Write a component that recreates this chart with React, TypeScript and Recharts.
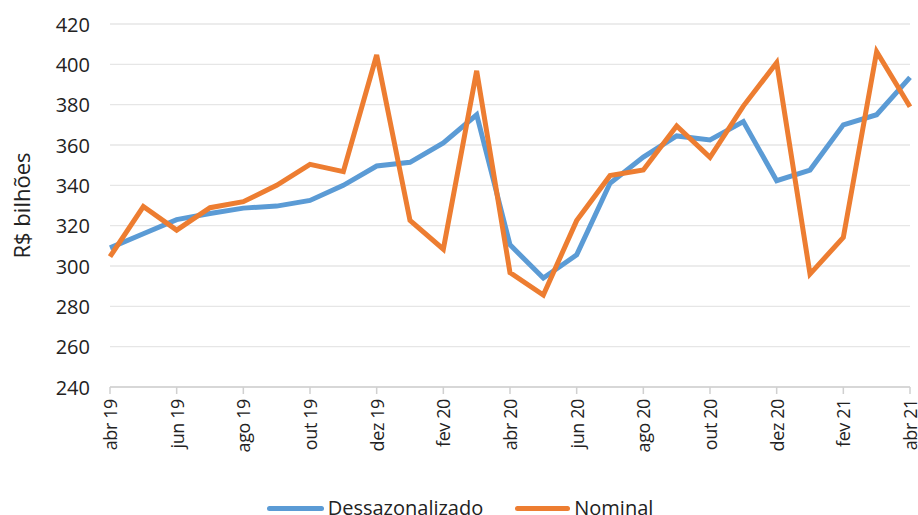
import React from 'react';
import { LineChart, Line, XAxis, YAxis, CartesianGrid, Legend } from 'recharts';

const months = ['abr 19','mai 19','jun 19','jul 19','ago 19','set 19','out 19','nov 19','dez 19','jan 20','fev 20','mar 20','abr 20','mai 20','jun 20','jul 20','ago 20','set 20','out 20','nov 20','dez 20','jan 21','fev 21','mar 21','abr 21'];
const dessazonalizado = [309, 316, 323, 326, 328.7, 329.7, 332.5, 340, 349.6, 351.4, 361, 375, 310.5, 294, 305.5, 341, 354, 364.5, 362.5, 371.6, 342.3, 347.6, 370, 375, 393.5];
const nominal = [304.6, 329.5, 317.8, 328.9, 331.9, 340, 350.4, 346.8, 404.6, 322.6, 308.3, 396.8, 296.7, 285.6, 322.5, 344.8, 347.6, 369.4, 353.9, 379.3, 400.8, 296, 314.2, 406.3, 379];
const yTicks = [240, 260, 280, 300, 320, 340, 360, 380, 400, 420];

const data = months.map((m, i) => ({ month: m, dessazonalizado: dessazonalizado[i], nominal: nominal[i] }));

const FONT = '"Open Sans", sans-serif';
const BLUE = '#5B9BD5';
const ORANGE = '#ED7D31';

const XTick = (props: any) => {
  const { x, y, payload } = props;
  return (
    <text x={x} y={y} transform={`rotate(-90, ${x}, ${y})`} textAnchor="end" dominantBaseline="central"
      fontFamily={FONT} fontSize={18} letterSpacing={-0.4} fill="#222">{payload.value}</text>
  );
};

const YTick = (props: any) => {
  const { x, y, payload } = props;
  return (
    <text x={x} y={y} textAnchor="end" dominantBaseline="central" fontFamily={FONT} fontSize={20} fill="#222">{payload.value}</text>
  );
};

const LegendContent = () => (
  <div style={{ position: 'relative', top: 3, display: 'flex', justifyContent: 'center', alignItems: 'center', height: 20, lineHeight: '20px', fontFamily: FONT, fontSize: 20, color: '#222', paddingLeft: 10 }}>
    <span style={{ display: 'inline-block', width: 57, height: 5, background: BLUE, borderRadius: 3, marginRight: 4 }} />
    <span style={{ marginRight: 32 }}>Dessazonalizado</span>
    <span style={{ display: 'inline-block', width: 55, height: 5, background: ORANGE, borderRadius: 3, marginRight: 4 }} />
    <span>Nominal</span>
  </div>
);

export default function App() {
  return (
    <div style={{ position: 'absolute', left: 0, top: 0, background: '#fff' }}>
      <LineChart width={918} height={515} data={data} margin={{ top: 24, right: 8, left: 0, bottom: 0 }}>
        <CartesianGrid vertical={false} stroke="#e6e6e6" strokeWidth={1.3} />
        <XAxis dataKey="month" interval={1} tick={<XTick />} tickSize={7} tickMargin={5}
          stroke="#d0d0d0" strokeWidth={1.5} height={108} />
        <YAxis domain={[240, 420]} ticks={yTicks} width={110} axisLine={false} tickLine={false}
          tick={<YTick />} tickMargin={20} tickSize={0}
          label={{ value: 'R$ bilhões', angle: -90, position: 'insideLeft', offset: 22,
            style: { textAnchor: 'middle', fontFamily: FONT, fontSize: 22, fill: '#222' } }} />
        <Legend verticalAlign="bottom" height={20} content={<LegendContent />} />
        <Line dataKey="dessazonalizado" stroke={BLUE} strokeWidth={5} dot={false} isAnimationActive={false} />
        <Line dataKey="nominal" stroke={ORANGE} strokeWidth={5} dot={false} isAnimationActive={false} />
      </LineChart>
    </div>
  );
}
